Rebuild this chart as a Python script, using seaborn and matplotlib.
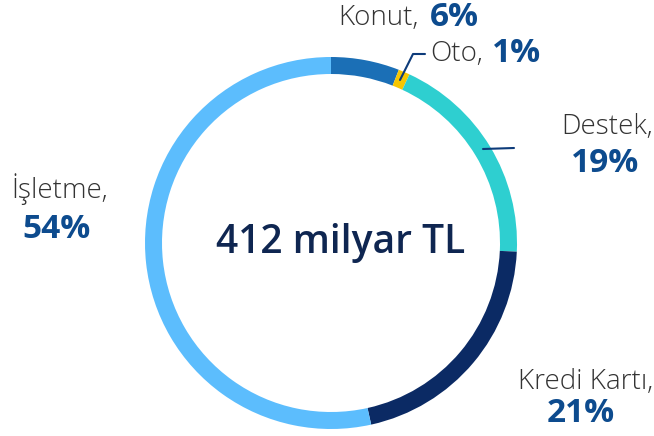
import matplotlib
matplotlib.use("Agg")
import matplotlib.pyplot as plt
import seaborn as sns

# data
labels = ["Konut", "Oto", "Destek", "Kredi Kartı", "İşletme"]
shares = [6, 1, 19, 21, 54]
colors = ["#1b6fb6", "#f7c600", "#2ecfd0", "#0b2a64", "#5cbdfd"]
center_text = "412 milyar TL"

sns.set_theme(style="white")
plt.rcParams['font.family'] = ['Open Sans', 'DejaVu Sans']

W, H = 654, 436
cx, cy, R = 331, 243, 186

fig = plt.figure(figsize=(W / 100, H / 100), dpi=100)
ax = fig.add_axes([(cx - R) / W, (H - cy - R) / H, 2 * R / W, 2 * R / H])
ax.pie(shares, colors=colors, startangle=90, counterclock=False, radius=1,
       wedgeprops=dict(width=17 / R, linewidth=0))
ax.set_xlim(-1, 1)
ax.set_ylim(-1, 1)
ax.set_aspect("equal")
ax.axis("off")

ax.text(10 / R, 0, center_text, ha="center", va="center", fontsize=28,
        fontweight="semibold", color="#0f2651")

name_col = "#333333"
pct_col = "#0d4b8e"
NS, PS = 20, 24


def px(x, y):
    return x / W, 1 - y / H


def name(x, y, s, ha):
    fig.text(*px(x, y), s, ha=ha, va="center", fontsize=NS,
             fontweight="light", color=name_col)


def pct(x, y, v, ha):
    fig.text(*px(x, y), f"{v}%", ha=ha, va="center", fontsize=PS,
             fontweight="bold", color=pct_col)


name(338, 18, labels[0] + ",", "left")
pct(479, 18, shares[0], "right")
name(430, 54, labels[1] + ",", "left")
pct(541, 54, shares[1], "right")
name(653, 127, labels[2] + ",", "right")
pct(605, 163, shares[2], "center")
name(653, 382, labels[3] + ",", "right")
pct(581, 413, shares[3], "center")
name(60, 189, labels[4] + ",", "center")
pct(57, 230, shares[4], "center")


def to_data(x, y):
    return (x - cx) / R, (cy - y) / R


# leader lines
pts = [to_data(400, 80), to_data(413, 54), to_data(425, 54)]
ax.plot([p[0] for p in pts], [p[1] for p in pts], color="#0d3b7a", lw=1.5,
        clip_on=False)
pts = [to_data(483, 149), to_data(514, 148)]
ax.plot([p[0] for p in pts], [p[1] for p in pts], color="#0d3b7a", lw=1.5,
        clip_on=False)

fig.savefig("out.png", dpi=100)
